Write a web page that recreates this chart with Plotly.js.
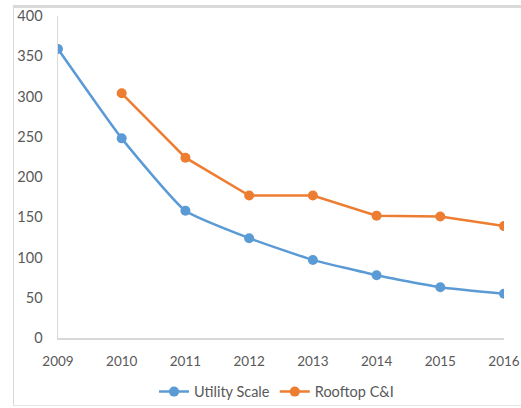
<!DOCTYPE html>
<html>
<head>
<meta charset="utf-8">
<script src="https://cdn.plot.ly/plotly-3.0.1.min.js"></script>
<style>
html,body{margin:0;padding:0;background:#fff;}
#wrap{position:absolute;left:13px;top:5px;width:508px;height:401px;border-top:3px solid #d9d9d9;border-left:1px solid #d9d9d9;border-bottom:1px solid #e6e6e6;box-sizing:border-box;}
#chart{position:absolute;left:0;top:0;width:521px;height:408px;}
</style>
</head>
<body>
<div id="wrap"></div>
<div id="chart"></div>
<script>
const years = [2009, 2010, 2011, 2012, 2013, 2014, 2015, 2016];
const utilityScale = [359, 248, 158, 124, 97, 78, 63, 55];
const rooftopYears = [2010, 2011, 2012, 2013, 2014, 2015, 2016];
const rooftopCI = [304, 224, 177, 177, 152, 151, 139];
const yTicks = [0, 50, 100, 150, 200, 250, 300, 350, 400];

const fontFam = 'Lato, "Open Sans", sans-serif';
const traces = [
  {
    x: years, y: utilityScale, name: 'Utility Scale', type: 'scatter', mode: 'lines+markers',
    line: {color: '#5b9bd5', width: 2.5, shape: 'spline', smoothing: 0.45},
    marker: {color: '#5b9bd5', size: 10}
  },
  {
    x: rooftopYears, y: rooftopCI, name: 'Rooftop C&I', type: 'scatter', mode: 'lines+markers',
    line: {color: '#ed7d31', width: 2.5},
    marker: {color: '#ed7d31', size: 10}
  }
];
const layout = {
  width: 521, height: 408,
  margin: {l: 58, r: 17, t: 16, b: 70},
  paper_bgcolor: 'rgba(0,0,0,0)', plot_bgcolor: 'rgba(0,0,0,0)',
  font: {family: fontFam, size: 14, color: '#595959'},
  showlegend: true,
  legend: {orientation: 'h', xref: 'paper', x: 0.49, xanchor: 'center', yref: 'container', y: 0.04, yanchor: 'middle', font: {size: 14.5, color: '#595959'}},
  xaxis: {
    range: [2009, 2016], tickmode: 'array', tickvals: years, ticktext: years.map(String), automargin: false,
    showgrid: false, zeroline: false, showline: true, linecolor: '#d9d9d9', linewidth: 2,
    ticks: 'outside', ticklen: 10, tickcolor: 'rgba(0,0,0,0)', tickfont: {size: 13.5, color: '#595959'}
  },
  yaxis: {
    range: [0, 400], tickmode: 'array', tickvals: yTicks, automargin: false,
    showgrid: false, zeroline: false, showline: true, linecolor: '#d9d9d9', linewidth: 1.5,
    ticks: 'outside', ticklen: 11, tickcolor: 'rgba(0,0,0,0)', tickfont: {size: 14.5, color: '#595959'}
  }
};
Plotly.newPlot('chart', traces, layout, {displayModeBar: false, staticPlot: true});
</script>
</body>
</html>
